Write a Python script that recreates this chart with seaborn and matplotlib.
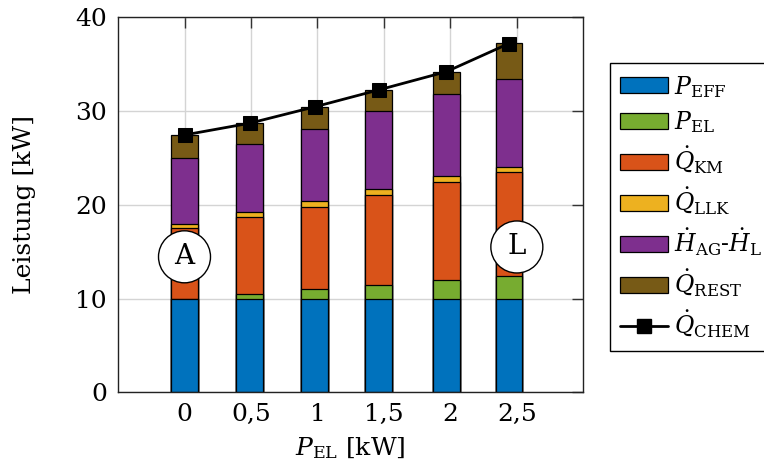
import numpy as np
import pandas as pd
import matplotlib
matplotlib.use("Agg")
import matplotlib.pyplot as plt
from matplotlib.patches import Patch
from matplotlib.lines import Line2D
import seaborn as sns

# measured electrical power per operating point (bar positions) [kW]
p_el = [0.0, 0.49, 0.98, 1.46, 1.97, 2.44]
# power balance components [kW]
p_eff = [10.0, 10.0, 10.0, 10.0, 10.0, 10.0]
q_km = [7.5, 8.2, 8.8, 9.6, 10.5, 11.1]
q_llk = [0.45, 0.5, 0.6, 0.6, 0.6, 0.45]
h_diff = [7.0, 7.25, 7.75, 8.3, 8.8, 9.4]
q_rest = [2.5, 2.25, 2.3, 2.3, 2.3, 3.85]
q_chem = [27.45, 28.7, 30.45, 32.25, 34.2, 37.2]

x_ticks = [0, 0.5, 1, 1.5, 2, 2.5]
x_tick_labels = ["0", "0,5", "1", "1,5", "2", "2,5"]
y_ticks = [0, 10, 20, 30, 40]

layers = [
    (r"$P_{\mathrm{EFF}}$", p_eff, "#0072BD"),
    (r"$P_{\mathrm{EL}}$", p_el, "#77AC30"),
    (r"$\dot{Q}_{\mathrm{KM}}$", q_km, "#D95319"),
    (r"$\dot{Q}_{\mathrm{LLK}}$", q_llk, "#EDB120"),
    (r"$\dot{H}_{\mathrm{AG}}$-$\dot{H}_{\mathrm{L}}$", h_diff, "#7E2F8E"),
    (r"$\dot{Q}_{\mathrm{REST}}$", q_rest, "#775A16"),
]

sns.set_style("white")
plt.rcParams["font.family"] = ["DejaVu Serif"]
plt.rcParams["mathtext.fontset"] = "dejavuserif"
plt.rcParams["text.color"] = "black"
plt.rcParams["axes.labelcolor"] = "black"
plt.rcParams["xtick.labelcolor"] = "black"
plt.rcParams["ytick.labelcolor"] = "black"

fig = plt.figure(figsize=(7.64, 4.74), dpi=100)
ax = fig.add_axes([0.1545, 0.1724, 0.6090, 0.7911])

# stacked bars: draw cumulative totals from the top layer downwards
cum = np.cumsum([np.array(v, dtype=float) for _, v, _ in layers], axis=0)
bar_width = 0.2 / np.min(np.diff(p_el))
for i in range(len(layers) - 1, -1, -1):
    df = pd.DataFrame({"x": p_el, "y": cum[i]})
    sns.barplot(data=df, x="x", y="y", native_scale=True, color=layers[i][2],
                saturation=1, width=bar_width, errorbar=None,
                edgecolor="black", linewidth=0.9, ax=ax, zorder=2)

sns.lineplot(x=p_el, y=q_chem, color="black", lw=2.0, marker="s",
             markersize=10, markeredgecolor="black", ax=ax, zorder=4)

ax.set_xlim(-0.5, 3.0)
ax.set_ylim(0, 40)
ax.set_xticks(x_ticks)
ax.set_xticklabels(x_tick_labels)
ax.set_yticks(y_ticks)
ax.tick_params(axis="both", direction="in", length=8, width=1, color="#333333",
               top=True, right=True, labelsize=18, pad=8, labelcolor="black")
ax.grid(True, color="#d4d4d4", lw=1)
ax.set_axisbelow(True)
for s in ax.spines.values():
    s.set_color("#222222")
    s.set_linewidth(1)
    s.set_visible(True)

ax.set_xlabel(r"$P_{\mathrm{EL}}$ [kW]", fontsize=18, labelpad=6, color="black")
ax.set_ylabel("Leistung [kW]", fontsize=18, labelpad=28, color="black")

circle_box = dict(boxstyle="circle,pad=0.45", fc="white", ec="black", lw=1)
ax.text(0.0, 14.45, "A", fontsize=20, ha="center", va="center",
        bbox=circle_box, zorder=5)
ax.text(2.5, 15.5, "L", fontsize=20, ha="center", va="center",
        bbox=circle_box, zorder=5)

handles = [Patch(facecolor=c, edgecolor="black", lw=0.9, label=lab)
           for lab, _, c in layers]
handles.append(Line2D([], [], color="black", lw=2.0, marker="s", markersize=10,
                      label=r"$\dot{Q}_{\mathrm{CHEM}}$"))
leg = fig.legend(handles=handles, loc="upper left", bbox_to_anchor=(0.7827, 0.892),
                 fontsize=17, frameon=True, fancybox=False, framealpha=1,
                 edgecolor="black", handlelength=2.0, handleheight=0.65,
                 handletextpad=0.25, labelspacing=0.4, borderpad=0.45)
leg.get_frame().set_linewidth(1)

fig.savefig("out.png", dpi=100)
